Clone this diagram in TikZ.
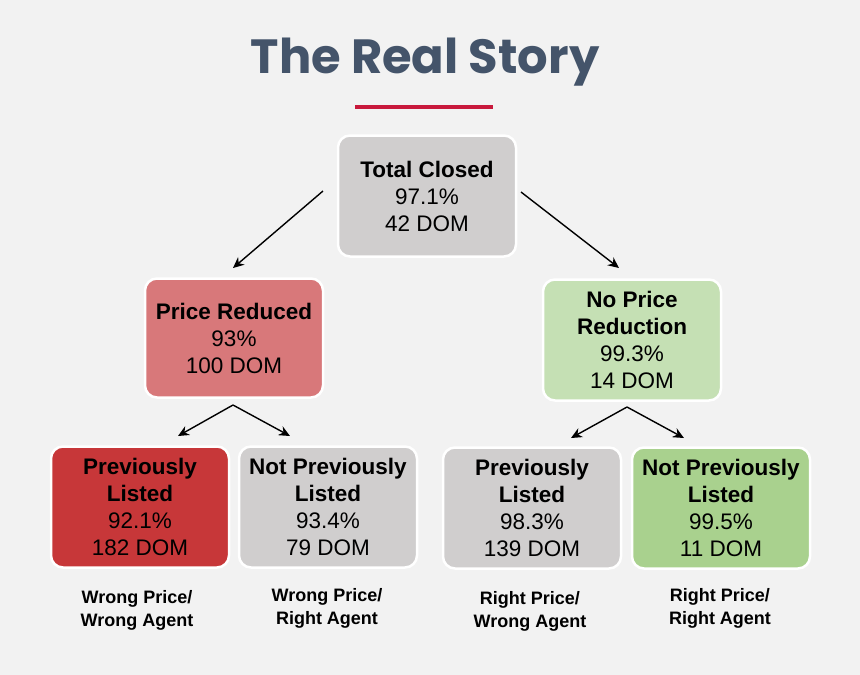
\documentclass[tikz,border=0pt]{standalone}
\usepackage{fontspec}
\setmainfont{Liberation Sans}
\newfontfamily\titlefont{Poppins}
\usetikzlibrary{arrows.meta,positioning}
\definecolor{bg}{HTML}{F2F2F2}
\definecolor{titleblue}{HTML}{44546A}
\definecolor{accent}{HTML}{C8193C}
\definecolor{boxgray}{HTML}{D0CECE}
\definecolor{boxpink}{HTML}{D8787A}
\definecolor{boxred}{HTML}{C73739}
\definecolor{boxlgreen}{HTML}{C5E0B4}
\definecolor{boxgreen}{HTML}{A9D18E}
\begin{document}
\begin{tikzpicture}[x=1pt,y=-1pt,
    box/.style={rounded corners=12pt,draw=white,line width=2.5pt,minimum width=178pt,
        minimum height=121pt,align=center,font=\fontsize{22.5}{27}\selectfont,text=black,inner xsep=2pt},
    arr/.style={-{Stealth[length=11pt,width=10pt]},line width=1.4pt},
    note/.style={align=center,font=\bfseries\fontsize{18}{23}\selectfont}]

    % background and title
    \fill[bg] (0,0) rectangle (860,675);
    \node[font=\titlefont\bfseries\fontsize{48}{54}\selectfont,text=titleblue] (title) at (425,62) {The Real Story};
    \draw[accent,line width=4pt] (355,107) -- (493,107);

    % boxes
    \node[box,fill=boxgray] (total) at (427,196) {\textbf{Total Closed}\\97.1\%\\42 DOM};
    \node[box,fill=boxpink,minimum height=119pt] (reduced) at (234,338) {\textbf{Price Reduced}\\93\%\\100 DOM};
    \node[box,fill=boxlgreen] (noreduc) at (632,340) {\textbf{No Price}\\\textbf{Reduction}\\99.3\%\\14 DOM};
    \node[box,fill=boxred] (prevA) at (140,507) {\textbf{Previously}\\\textbf{Listed}\\92.1\%\\182 DOM};
    \node[box,fill=boxgray] (notprevA) at (328,507) {\textbf{Not Previously}\\\textbf{Listed}\\93.4\%\\79 DOM};
    \node[box,fill=boxgray] (prevB) at (532,508) {\textbf{Previously}\\\textbf{Listed}\\98.3\%\\139 DOM};
    \node[box,fill=boxgreen] (notprevB) at (721,508) {\textbf{Not Previously}\\\textbf{Listed}\\99.5\%\\11 DOM};

    % notes
    \node[note] (noteA) at (137,610) {Wrong Price/\\Wrong Agent};
    \node[note] (noteB) at (327,608) {Wrong Price/\\Right Agent};
    \node[note] (noteC) at (530,611) {Right Price/\\Wrong Agent};
    \node[note] (noteD) at (720,608) {Right Price/\\Right Agent};

    % arrow points
    \coordinate (tl) at (323,191);
    \coordinate (tr) at (521,192);
    \coordinate (rs) at (233,405);
    \coordinate (ns) at (627,407);
    \coordinate (rin) at (233,268);
    \coordinate (nin) at (619,268);
    \coordinate (pa) at (178,436);
    \coordinate (pb) at (290,436);
    \coordinate (pc) at (571,438);
    \coordinate (pd) at (684,438);

    % arrows
    \draw[arr] (tl) -- (rin);
    \draw[arr] (tr) -- (nin);
    \draw[arr] (rs) -- (pa);
    \draw[arr] (rs) -- (pb);
    \draw[arr] (ns) -- (pc);
    \draw[arr] (ns) -- (pd);

\end{tikzpicture}
\end{document}
